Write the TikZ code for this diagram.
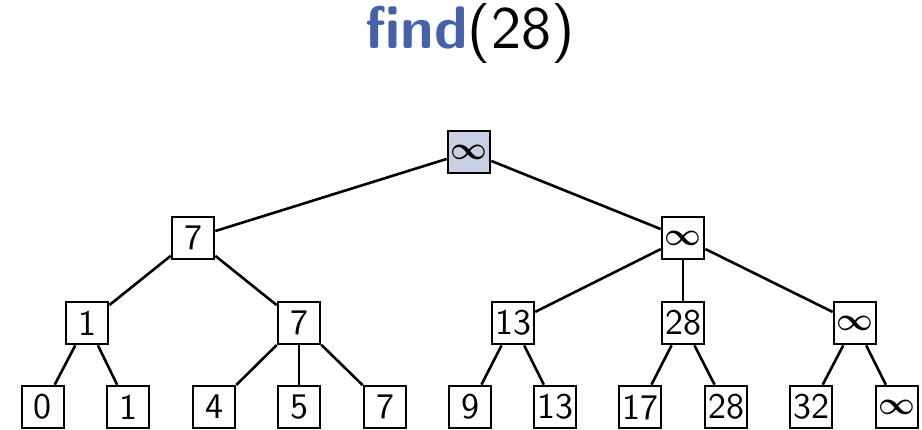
\RequirePackage{fix-cm}
\documentclass[tikz,border=0pt]{standalone}
\usepackage{fontspec}
\setsansfont{lmsans10-regular.otf}[BoldFont=lmsans10-bold.otf]
\definecolor{findblue}{RGB}{69,98,168}
\definecolor{rootfill}{RGB}{201,208,228}
\newcommand{\infsym}{{\fontsize{32}{32}\selectfont\boldmath$\infty$}}
\begin{document}
\begin{tikzpicture}[x=1pt,y=-1pt,
  bx/.style={draw,line width=2.6pt,minimum size=42pt,inner sep=2pt,
    font=\sffamily\fontsize{36}{36}\selectfont},
  edge/.style={line width=2.6pt}]
\useasboundingbox (0,0) rectangle (922,430);
\node[font=\sffamily\fontsize{60}{63}\selectfont] (title) at (470,34)
  {\textcolor{findblue}{\textbf{find}}(28)};
\node[bx,fill=rootfill] (r) at (469,152) {\infsym};
\node[bx] (a) at (193,238) {7};
\node[bx] (b) at (683,238) {\infsym};
\node[bx] (a1) at (87,323) {1};
\node[bx] (a2) at (299,323) {7};
\node[bx] (b1) at (513,323) {13};
\node[bx] (b2) at (683,323) {28};
\node[bx] (b3) at (855,323) {\infsym};
\node[bx] (l1) at (43,407) {0};
\node[bx] (l2) at (128,407) {1};
\node[bx] (l3) at (214,407) {4};
\node[bx] (l4) at (299,407) {5};
\node[bx] (l5) at (385,407) {7};
\node[bx] (l6) at (470,407) {9};
\node[bx] (l7) at (555,407) {13};
\node[bx] (l8) at (640,407) {17};
\node[bx] (l9) at (726,407) {28};
\node[bx] (l10) at (811,407) {32};
\node[bx] (l11) at (897,407) {\infsym};
\draw[edge] (r) -- (a);
\draw[edge] (r) -- (b);
\draw[edge] (a) -- (a1);
\draw[edge] (a) -- (a2);
\draw[edge] (b) -- (b1);
\draw[edge] (b) -- (b2);
\draw[edge] (b) -- (b3);
\draw[edge] (a1) -- (l1);
\draw[edge] (a1) -- (l2);
\draw[edge] (a2) -- (l3);
\draw[edge] (a2) -- (l4);
\draw[edge] (a2) -- (l5);
\draw[edge] (b1) -- (l6);
\draw[edge] (b1) -- (l7);
\draw[edge] (b2) -- (l8);
\draw[edge] (b2) -- (l9);
\draw[edge] (b3) -- (l10);
\draw[edge] (b3) -- (l11);
\end{tikzpicture}
\end{document}
